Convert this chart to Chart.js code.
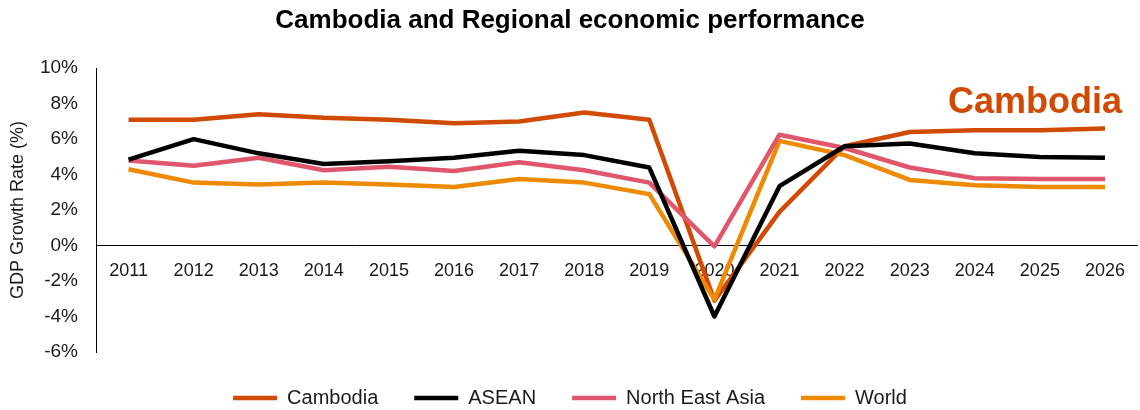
<!DOCTYPE html>
<html lang="en">

<head>
  <meta charset="UTF-8">
  <title>Cambodia and Regional economic performance</title>
  <script src="https://cdn.jsdelivr.net/npm/chart.js"></script>
  <style>
    body {
      margin: 0;
      padding: 0;
      background: #ffffff;
    }

    .chart-box {
      width: 1140px;
      height: 410px;
    }
  </style>
</head>

<body>
  <div class="chart-box">
    <canvas id="growthChart" width="1140" height="410"></canvas>
  </div>

  <script>
    // GDP growth, % per year
    const years = ['2011', '2012', '2013', '2014', '2015', '2016', '2017', '2018',
      '2019', '2020', '2021', '2022', '2023', '2024', '2025', '2026'];
    const cambodia = [7.1, 7.1, 7.4, 7.2, 7.1, 6.9, 7.0, 7.5, 7.1, -3.1, 1.9, 5.6, 6.4, 6.5, 6.5, 6.6];
    const asean = [4.85, 6.0, 5.2, 4.6, 4.75, 4.95, 5.35, 5.1, 4.4, -4.0, 3.35, 5.6, 5.75, 5.2, 5.0, 4.95];
    const northEastAsia = [4.8, 4.5, 4.95, 4.25, 4.45, 4.2, 4.7, 4.25, 3.55, -0.05, 6.25, 5.5, 4.4, 3.8, 3.75, 3.75];
    const world = [4.3, 3.55, 3.45, 3.55, 3.45, 3.3, 3.75, 3.55, 2.9, -3.05, 5.9, 5.1, 3.7, 3.4, 3.3, 3.3];

    const yTicks = { min: -6, max: 10, step: 2 };

    const FONT = "'Liberation Sans', Arial, sans-serif";
    const TEXT = '#1a1a1a';

    // big "Cambodia" call-out at the right end of the chart
    const calloutLabel = {
      id: 'calloutLabel',
      afterDatasetsDraw(chart) {
        const { ctx, scales } = chart;
        const x = scales.x.getPixelForValue(years.length - 1) + 17;
        const y = scales.y.getPixelForValue(7.5);
        ctx.save();
        ctx.font = `bold 36px ${FONT}`;
        ctx.fillStyle = '#D04A02';
        ctx.textAlign = 'right';
        ctx.textBaseline = 'alphabetic';
        ctx.fillText('Cambodia', x, y);
        ctx.restore();
      }
    };

    // legend padding is used both ways, so trim the box height it asks for
    const legendHeight = {
      id: 'legendHeight',
      beforeInit(chart) {
        const fit = chart.legend.fit;
        chart.legend.fit = function () {
          fit.bind(chart.legend)();
          this.height = 58;
        };
      }
    };

    function series(label, data, color, order) {
      return {
        label: label,
        data: data,
        borderColor: color,
        backgroundColor: color,
        borderWidth: 4.5,
        tension: 0,
        pointRadius: 0,
        pointHoverRadius: 0,
        borderJoinStyle: 'round',
        order: order,
      };
    }

    const ctx = document.getElementById('growthChart').getContext('2d');
    new Chart(ctx, {
      type: 'line',
      data: {
        labels: years,
        datasets: [
          series('Cambodia', cambodia, '#D04A02', 3),
          series('ASEAN', asean, '#000000', 0),
          series('North East Asia', northEastAsia, '#E0566C', 1),
          series('World', world, '#EE8A00', 2),
        ],
      },
      options: {
        responsive: false,
        animation: false,
        layout: {
          padding: { left: 0, right: 0, top: 0, bottom: 0 },
        },
        scales: {
          x: {
            type: 'category',
            offset: true,
            position: { y: 0 },
            grid: { display: false, drawTicks: false },
            border: { display: true, color: '#000000', width: 1 },
            ticks: {
              color: TEXT,
              font: { family: FONT, size: 18 },
              padding: 15,
              maxRotation: 0,
              autoSkip: false,
            },
          },
          y: {
            min: yTicks.min,
            max: yTicks.max,
            afterFit(scale) {
              scale.width = 96;
            },
            grid: { display: false, drawTicks: false },
            border: { display: true, color: '#000000', width: 1 },
            ticks: {
              stepSize: yTicks.step,
              color: TEXT,
              font: { family: FONT, size: 19 },
              padding: 18,
              callback: (v) => v + '%',
            },
            title: {
              display: true,
              text: 'GDP Growth Rate (%)',
              color: TEXT,
              font: { family: FONT, size: 18 },
              padding: { top: 7, bottom: 0 },
            },
          },
        },
        plugins: {
          title: {
            display: true,
            text: 'Cambodia and Regional economic performance',
            color: '#000000',
            font: { family: FONT, size: 26, weight: 'bold' },
            padding: { top: 5, bottom: 32 },
          },
          legend: {
            position: 'bottom',
            labels: {
              color: TEXT,
              font: { family: FONT, size: 20 },
              usePointStyle: true,
              pointStyle: 'line',
              pointStyleWidth: 44,
              padding: 36,
              // keep dataset order (Cambodia first), not draw order
              sort: (a, b) => a.datasetIndex - b.datasetIndex,
            },
          },
          tooltip: { enabled: false },
        },
      },
      plugins: [calloutLabel, legendHeight],
    });
  </script>
</body>

</html>
